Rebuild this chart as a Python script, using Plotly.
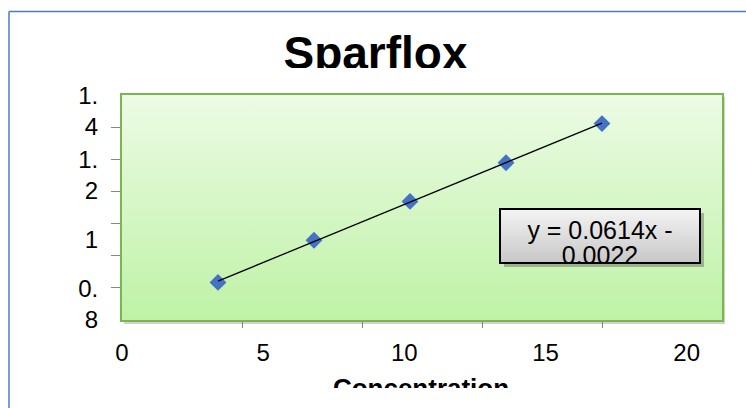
import numpy as np
import plotly.graph_objects as go

W, H = 746, 408

# Calibration points
concentration = [3.4, 6.8, 10.2, 13.6, 17.0]
absorbance = [0.867, 0.998, 1.119, 1.239, 1.361]

x_tick_labels = ["0", "5", "10", "15", "20"]
y_tick_labels = ["0.8", "1", "1.2", "1.4"]

chart_title = "Sparflox"
x_title = "Concentration"
equation_lines = ["y = 0.0614x -", "0.0022"]

x_range = [0, 21.25]
y_range = [0.75, 1.45]

FONT = "Liberation Sans, Arial, sans-serif"
GREEN_EDGE = "#7ab552"
TICK_GREY = "#868686"

# plot area in pixels
PL, PR, PT, PB = 122, 722, 95, 320


def fx(px):
    return px / W


def fy(py):
    return 1 - py / H


fig = go.Figure()

# gradient plot-area background
fig.add_trace(go.Scatter(
    x=[x_range[0], x_range[1], x_range[1], x_range[0], x_range[0]],
    y=[y_range[0], y_range[0], y_range[1], y_range[1], y_range[0]],
    fill="toself", mode="none", hoverinfo="skip", showlegend=False,
    fillgradient=dict(type="vertical", start=y_range[0], stop=y_range[1],
                      colorscale=[[0, "#bff2a6"], [1, "#ecfbe5"]]),
))

# data points
fig.add_trace(go.Scatter(
    x=concentration, y=absorbance, mode="markers", showlegend=False,
    marker=dict(symbol="diamond", size=13, color="#4472c4"),
))

# linear trendline
slope, intercept = np.polyfit(concentration, absorbance, 1)
tx = np.array([min(concentration), max(concentration)])
fig.add_trace(go.Scatter(
    x=tx, y=slope * tx + intercept, mode="lines", showlegend=False,
    line=dict(color="black", width=1.3),
))


def panel(n, left, top, right, bottom):
    """Invisible pixel-unit subplot used to clip text to a box."""
    fig.update_layout({
        f"xaxis{n}": dict(domain=[fx(left), fx(right)], range=[left, right],
                          visible=False, anchor=f"y{n}", fixedrange=True),
        f"yaxis{n}": dict(domain=[fy(bottom), fy(top)], range=[bottom, top],
                          visible=False, anchor=f"x{n}", fixedrange=True),
    })
    return f"x{n}", f"y{n}"


# equation box shadow
bx0, by0, bx1, by1 = 501, 210, 699, 262
xa, ya = panel(2, bx0 + 3, by0 + 3, bx1 + 5, by1 + 5)
fig.add_trace(go.Scatter(
    x=[bx0 + 3, bx1 + 5, bx1 + 5, bx0 + 3, bx0 + 3],
    y=[by0 + 3, by0 + 3, by1 + 5, by1 + 5, by0 + 3],
    xaxis=xa, yaxis=ya, fill="toself", mode="none", hoverinfo="skip",
    fillcolor="rgba(60,60,60,0.35)", showlegend=False,
))

# equation box with clipped text
xa, ya = panel(3, bx0, by0, bx1, by1)
fig.add_trace(go.Scatter(
    x=[bx0, bx1, bx1, bx0, bx0], y=[by0, by0, by1, by1, by0],
    xaxis=xa, yaxis=ya, fill="toself", mode="none", hoverinfo="skip",
    showlegend=False,
    fillgradient=dict(type="vertical", start=by1, stop=by0,
                      colorscale=[[0, "#c8c8c8"], [1, "#f3f3f3"]]),
))
fig.add_trace(go.Scatter(
    x=[600, 600], y=[233, 258], text=equation_lines, mode="text",
    textposition="middle center", xaxis=xa, yaxis=ya, cliponaxis=True,
    textfont=dict(family=FONT, size=25, color="black"),
    hoverinfo="skip", showlegend=False,
))

# chart title (clipped at its frame)
xa, ya = panel(4, 0, 0, W, 68)
fig.add_trace(go.Scatter(
    x=[375.5], y=[57], text=[f"<b>{chart_title}</b>"], mode="text",
    textposition="middle center", xaxis=xa, yaxis=ya, cliponaxis=True,
    textfont=dict(family=FONT, size=46, color="black"),
    hoverinfo="skip", showlegend=False,
))

# x-axis title (clipped at its frame)
xa, ya = panel(5, 0, 360, W, 388)
fig.add_trace(go.Scatter(
    x=[421], y=[390], text=[f"<b>{x_title}</b>"], mode="text",
    textposition="middle center", xaxis=xa, yaxis=ya, cliponaxis=True,
    textfont=dict(family=FONT, size=26, color="black"),
    hoverinfo="skip", showlegend=False,
))

axis_common = dict(
    showline=True, mirror=True, linecolor=GREEN_EDGE, linewidth=2,
    showgrid=False, zeroline=False, fixedrange=True,
    ticks="inside", ticklen=0,
    tickfont=dict(family=FONT, size=24, color="black"),
)

fig.update_layout(
    width=W, height=H,
    margin=dict(l=0, r=0, t=0, b=0, autoexpand=False),
    paper_bgcolor="white", plot_bgcolor="rgba(0,0,0,0)",
    showlegend=False, hovermode=False,
    xaxis=dict(
        domain=[fx(PL), fx(PR)], range=x_range,
        tickmode="array",
        tickvals=[float(t) for t in x_tick_labels], ticktext=x_tick_labels,
        minor=dict(ticks="outside", ticklen=6, tickwidth=1, tickcolor=TICK_GREY,
                   tick0=x_range[0], dtick=(x_range[1] - x_range[0]) / 5,
                   showgrid=False),
        ticklabelstandoff=10,
        **axis_common,
    ),
    yaxis=dict(
        domain=[fy(PB), fy(PT)], range=y_range,
        tickmode="array",
        tickvals=[float(t) for t in y_tick_labels],
        ticktext=[t.replace(".", ".<br>") for t in y_tick_labels],
        minor=dict(ticks="outside", ticklen=9, tickwidth=1, tickcolor=TICK_GREY,
                   tick0=y_range[0], dtick=0.1, showgrid=False),
        ticklabelstandoff=17,
        **axis_common,
    ),
    shapes=[
        # soft shadow behind the plot area
        dict(type="rect", xref="paper", yref="paper", layer="below",
             x0=fx(PL + 2), x1=fx(PR + 3), y0=fy(PB + 4), y1=fy(PT + 2),
             fillcolor="rgba(0,0,0,0.18)", line=dict(width=0)),
        # equation box frame
        dict(type="rect", xref="paper", yref="paper", layer="above",
             x0=fx(bx0 - 1), x1=fx(bx1 + 1), y0=fy(by1 + 1), y1=fy(by0 - 1),
             line=dict(color="black", width=2)),
        # chart-area frame
        dict(type="line", xref="paper", yref="paper", layer="above",
             x0=fx(9), x1=1.02, y0=fy(11.5), y1=fy(11.5),
             line=dict(color="#4a7ebb", width=1.5)),
        dict(type="line", xref="paper", yref="paper", layer="above",
             x0=fx(9), x1=fx(9), y0=fy(11.5), y1=-0.02,
             line=dict(color="#4a7ebb", width=1.5)),
    ],
)

fig.write_html("out.html")
